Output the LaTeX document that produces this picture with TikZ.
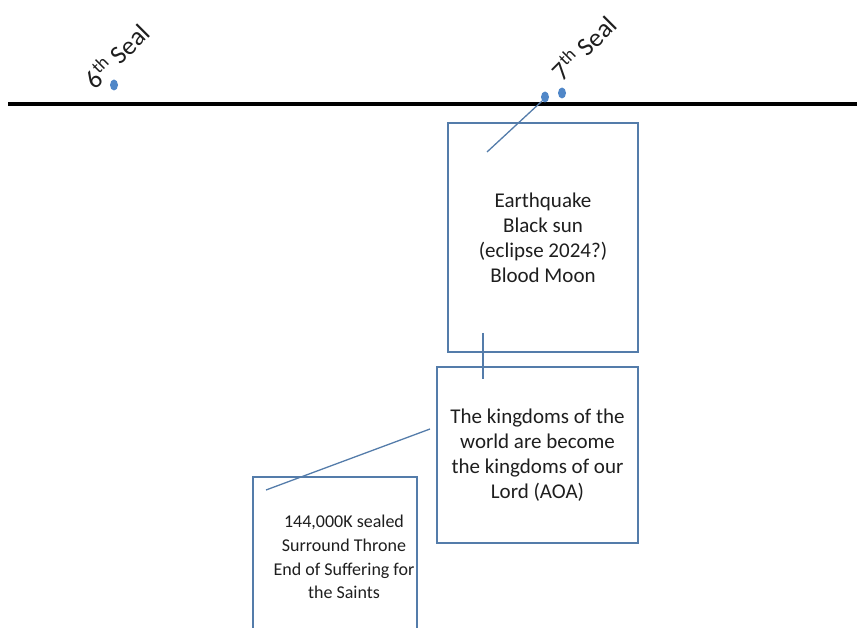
\documentclass[tikz,border=0pt]{standalone}
\usepackage{fontspec}
\setmainfont{Carlito}
\usetikzlibrary{shapes.geometric}
\definecolor{boxline}{RGB}{84,124,170}
\definecolor{dotblue}{RGB}{80,135,200}
\definecolor{txt}{RGB}{30,30,30}
\begin{document}
\begin{tikzpicture}[x=1pt,y=-1pt,
  box/.style={draw=boxline, line width=1.3pt, rectangle, inner sep=0pt, align=center, text=txt},
  dotnode/.style={ellipse, fill=dotblue, inner sep=0pt, minimum width=8pt, minimum height=11pt},
  conn/.style={draw=boxline, line width=1.3pt},
  seal/.style={text=txt, font=\fontsize{26}{30}\selectfont, rotate=45, inner sep=0pt}]
\useasboundingbox (0,0) rectangle (857,628);
\clip (0,0) rectangle (857,628);
% timeline
\draw[line width=3.5pt, black] (8,104) -- (857,104);
% dots
\node[dotnode] (dot6) at (114,85) {};
\node[dotnode] (dot7a) at (545,97) {};
\node[dotnode] (dot7b) at (562,93) {};
% labels
\node[seal] (lab6) at (116,55) {6\textsuperscript{th} Seal};
\node[seal] (lab7) at (583,47) {7\textsuperscript{th} Seal};
% boxes
\node[box, minimum width=190pt, minimum height=229pt, font=\fontsize{21}{25}\selectfont] (box1) at (543,237.5)
  {Earthquake\\Black sun\\(eclipse 2024?)\\Blood Moon};
\node[box, minimum width=201pt, minimum height=176pt, font=\fontsize{21}{25}\selectfont] (box2) at (537.5,455)
  {The kingdoms of the\\world are become\\the kingdoms of our\\Lord (AOA)};
\node[box, minimum width=164pt, minimum height=160pt, font=\fontsize{18}{23.7}\selectfont] (box3) at (335,557)
  {\hspace*{18pt}144,000K sealed\\\hspace*{18pt}Surround Throne\\\hspace*{18pt}End of Suffering for\\\hspace*{18pt}the Saints};
% connectors
\coordinate (c1) at (487,152);
\draw[conn] (c1) -- (dot7a.south west);
\coordinate (c2a) at (483,333);
\coordinate (c2b) at (483,379);
\draw[conn] (c2a) -- (c2b);
\coordinate (c3a) at (266,490);
\coordinate (c3b) at (430,429);
\draw[conn] (c3a) -- (c3b);
\end{tikzpicture}
\end{document}
